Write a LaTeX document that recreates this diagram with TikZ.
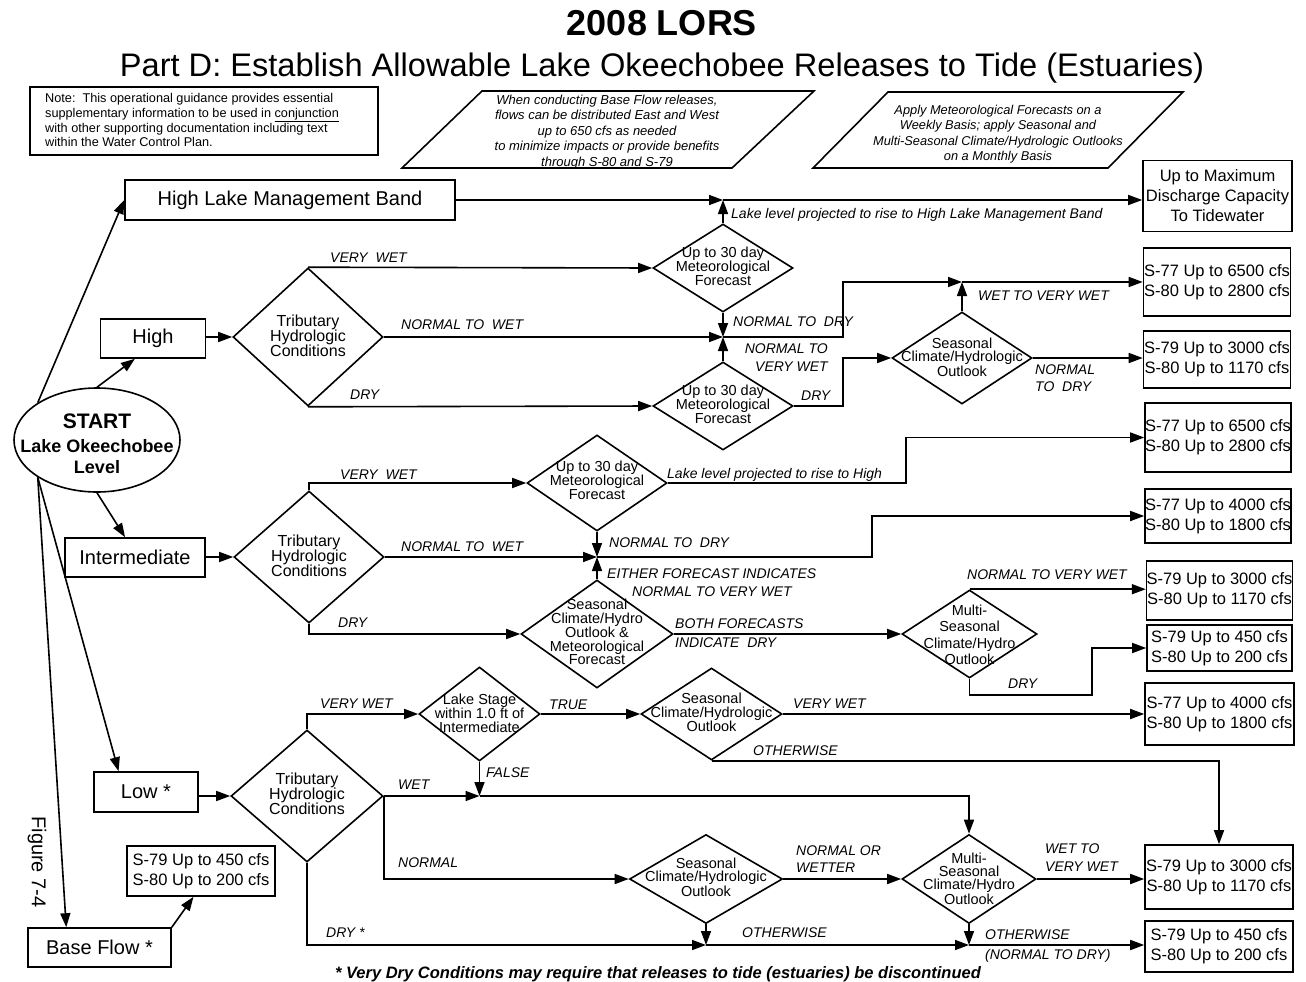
\documentclass[tikz,border=0pt]{standalone}
\usepackage{fontspec}
\setmainfont{Liberation Sans}
\usetikzlibrary{shapes.geometric,arrows.meta,calc}
\newcommand\myfs[2]{\fontsize{#1}{#2}\selectfont}
\begin{document}
\begin{tikzpicture}[x=1pt,y=-1pt,
  box/.style={draw, line width=1.6pt, rectangle, inner sep=0pt, align=center},
  dia/.style={draw, diamond, line width=1.6pt, inner sep=0pt},
  big/.style={font=\myfs{20}{24}},
  val/.style={font=\myfs{16.5}{20}},
  trib/.style={inner sep=0pt, align=center, font=\myfs{16}{15}},
  dsm/.style={inner sep=0pt, align=center, font=\myfs{14.5}{13.5}},
  lab/.style={inner sep=0pt, font=\myfs{14}{17}\itshape},
  conn/.style={line width=1.6pt},
  arr/.style={conn, -{Triangle[length=14pt,width=10pt]}},
]
\useasboundingbox (0,0) rectangle (1306,982);

% titles
\node[anchor=base, inner sep=0, font=\myfs{36}{40}\bfseries] (title) at (662,36) {2008 LORS};
\node[anchor=base, inner sep=0, font=\myfs{32.6}{36}] (subtitle) at (662,77) {Part D: Establish Allowable Lake Okeechobee Releases to Tide (Estuaries)};

% note
\node[draw, line width=1.8pt, minimum width=348, minimum height=68, inner sep=0] (notebox) at (204,121) {};
\node[anchor=north west, inner sep=0, align=left, font=\myfs{12.7}{14.8}] (notetext) at (45,93) {Note:\ \ This operational guidance provides essential\\supplementary information to be used in \underline{conjunction}\\with other supporting documentation including text\\within the Water Control Plan.};

% parallelograms
\draw[line width=1.6pt] (482,91) -- (814,91) -- (732,168) -- (402,168) -- cycle;
\node[inner sep=0, align=center, font=\myfs{13}{15.5}\itshape] (para1) at (607,132) {When conducting Base Flow releases,\\flows can be distributed East and West\\up to 650 cfs as needed\\to minimize impacts or provide benefits\\through S-80 and S-79};
\draw[line width=1.6pt] (888,92) -- (1183,92) -- (1108,168) -- (813,168) -- cycle;
\node[inner sep=0, align=center, font=\myfs{12.8}{15.5}\itshape] (para2) at (998,134) {Apply Meteorological Forecasts on a\\Weekly Basis; apply Seasonal and\\Multi-Seasonal Climate/Hydrologic Outlooks\\on a Monthly Basis};

% start
\node[draw, ellipse, line width=1.6pt, minimum width=166, minimum height=104, inner sep=0] (start) at (97,440) {};
\node[anchor=base, inner sep=0, font=\myfs{21}{24}\bfseries] (st1) at (97,428) {START};
\node[anchor=base, inner sep=0, font=\myfs{18}{20}\bfseries] (st2) at (97,452) {Lake Okeechobee};
\node[anchor=base, inner sep=0, font=\myfs{18}{20}\bfseries] (st3) at (97,473) {Level};

% level boxes
\node[box, big, minimum width=330, minimum height=40] (hlmb) at (290,200) {High Lake Management Band};
\node[box, big, minimum width=105, minimum height=39] (high) at (153,338.5) {High};
\node[box, big, minimum width=140, minimum height=39] (inter) at (135,557.5) {Intermediate};
\node[box, big, minimum width=104, minimum height=40] (low) at (146,792) {Low *};
\node[box, big, minimum width=143, minimum height=39] (bflow) at (99.5,947.5) {Base Flow *};
\node[box, val, minimum width=148, minimum height=50] (bval) at (201,871) {S-79 Up to 450 cfs\\S-80 Up to 200 cfs};

% result boxes
\node[box, val, minimum width=149, minimum height=71] (r0) at (1217.5,196) {Up to Maximum\\Discharge Capacity\\To Tidewater};
\node[box, val, minimum width=147, minimum height=68] (r1) at (1217,282) {S-77 Up to 6500 cfs\\S-80 Up to 2800 cfs};
\node[box, val, minimum width=147, minimum height=57] (r2) at (1217,359.5) {S-79 Up to 3000 cfs\\S-80 Up to 1170 cfs};
\node[box, val, minimum width=146, minimum height=69] (r3) at (1218,437.5) {S-77 Up to 6500 cfs\\S-80 Up to 2800 cfs};
\node[box, val, minimum width=146, minimum height=54] (r4) at (1218,516) {S-77 Up to 4000 cfs\\S-80 Up to 1800 cfs};
\node[box, val, minimum width=145, minimum height=59] (r5) at (1219.5,590.5) {S-79 Up to 3000 cfs\\S-80 Up to 1170 cfs};
\node[box, val, minimum width=145, minimum height=46] (r6) at (1219.5,648) {S-79 Up to 450 cfs\\S-80 Up to 200 cfs};
\node[box, val, minimum width=149, minimum height=62] (r7) at (1219.5,714) {S-77 Up to 4000 cfs\\S-80 Up to 1800 cfs};
\node[box, val, minimum width=148, minimum height=64] (r8) at (1219,877) {S-79 Up to 3000 cfs\\S-80 Up to 1170 cfs};
\node[box, val, minimum width=148, minimum height=51] (r9) at (1219,946.5) {S-79 Up to 450 cfs\\S-80 Up to 200 cfs};

% diamonds High
\node[dia, minimum width=150, minimum height=138] (trH) at (308,337) {};
\node[trib] (trHt) at (308,336) {Tributary\\Hydrologic\\Conditions};
\node[dia, minimum width=140, minimum height=88] (met1) at (723,268) {};
\node[dsm] (met1t) at (723,266) {Up to 30 day\\Meteorological\\Forecast};
\node[dia, minimum width=140, minimum height=88] (met2) at (723,406) {};
\node[dsm] (met2t) at (723,404) {Up to 30 day\\Meteorological\\Forecast};
\node[dia, minimum width=140, minimum height=92] (sch1) at (962,358) {};
\node[dsm] (sch1t) at (962,357) {Seasonal\\Climate/Hydrologic\\Outlook};

% diamonds Intermediate
\node[dia, minimum width=150, minimum height=132] (trI) at (309,557) {};
\node[trib] (trIt) at (309,556) {Tributary\\Hydrologic\\Conditions};
\node[dia, minimum width=140, minimum height=96] (met3) at (597,483) {};
\node[dsm] (met3t) at (597,480) {Up to 30 day\\Meteorological\\Forecast};
\node[dia, minimum width=152, minimum height=108] (schm) at (597,634) {};
\node[dsm] (schmt) at (597,632) {Seasonal\\Climate/Hydro\\Outlook \&\\Meteorological\\Forecast};
\node[dia, minimum width=135, minimum height=88] (ms1) at (969.5,634) {};
\node[inner sep=0, align=center, font=\myfs{14.5}{16.5}] (ms1t) at (969.5,635) {Multi-\\Seasonal\\Climate/Hydro\\Outlook};

% diamonds Low
\node[dia, minimum width=152, minimum height=132] (trL) at (307,796) {};
\node[trib] (trLt) at (307,794) {Tributary\\Hydrologic\\Conditions};
\node[dia, minimum width=121, minimum height=94] (ls) at (479.5,714) {};
\node[dsm] (lst) at (479.5,713) {Lake Stage\\within 1.0 ft of\\Intermediate};
\node[dia, minimum width=141, minimum height=92] (sch3) at (711.5,714) {};
\node[dsm] (sch3t) at (711.5,712.5) {Seasonal\\Climate/Hydrologic\\Outlook};
\node[dia, minimum width=153, minimum height=89] (sch4) at (706,879) {};
\node[dsm] (sch4t) at (706,877) {Seasonal\\Climate/Hydrologic\\Outlook};
\node[dia, minimum width=134, minimum height=89] (ms2) at (969,879) {};
\node[inner sep=0, align=center, font=\myfs{14.5}{13.3}] (ms2t) at (969,878.5) {Multi-\\Seasonal\\Climate/Hydro\\Outlook};

% junctions
\coordinate (j0) at (723,200);
\coordinate (j1) at (723,337);
\coordinate (b1) at (843,337);
\coordinate (j2) at (962,282);
\coordinate (b2) at (843,406);
\coordinate (j3) at (597,557);
\coordinate (b3) at (906,483);
\coordinate (b4) at (872,557);
\coordinate (b6) at (1092,695);
\coordinate (j4) at (479.5,796);
\coordinate (j5) at (706,945);
\coordinate (j6) at (969,945);

% start arrows
\draw[arr] (start.north west) -- (hlmb.west);
\draw[arr] (start.north) -- ($(high.south west)!0.33!(high.south east)$);
\draw[arr] (start.south) -- ($(inter.north west)!0.43!(inter.north east)$);
\draw[arr] (start.south west) -- ($(low.north west)!0.24!(low.north east)$);
\draw[arr] (start.south west) -- ($(bflow.north west)!0.27!(bflow.north east)$);
\draw[arr] (bflow.north east) -- ($(bval.south west)!0.45!(bval.south east)$);

% HLMB
\draw[arr] (hlmb.east) -- (j0);
\draw[arr] (j0) -- (j0 -| r0.west);
\draw[arr] (met1.north) -- (j0);

% High
\draw[arr] (trH.west -| high.east) -- (trH.west);
\draw[arr] (trH.north) -- (met1.west);
\draw[arr] (trH.east) -- (j1);
\draw[arr] (trH.south) -- (met2.west);
\draw[arr] (met1.south) -- (j1);
\draw[arr] (met2.north) -- (j1);
\draw[arr] (j1) -- (b1) |- (j2);
\draw[arr] (sch1.north) -- (j2);
\draw[arr] (j2) -- (j2 -| r1.west);
\draw[arr] (met2.east) -- (b2) |- (sch1.west);
\draw[arr] (sch1.east) -- (sch1.east -| r2.west);

% Intermediate
\draw[arr] (trI.west -| inter.east) -- (trI.west);
\draw[arr] (trI.north) |- (met3.west);
\draw[arr] (trI.east) -- (j3);
\draw[arr] (trI.south) |- (schm.west);
\draw[arr] (met3.south) -- (j3);
\draw[arr] (schm.north) -- (j3);
\draw[arr] (met3.east) -- (b3) |- (r3.west);
\draw[arr] (j3) -- (b4) |- (r4.west);
\draw[arr] (schm.east) -- (ms1.west);
\draw[arr] (ms1.north) -- (ms1.north -| r5.west);
\draw[arr] (ms1.south) |- (b6) |- (r6.west);

% Low
\draw[arr] (trL.west -| low.east) -- (trL.west);
\draw[arr] (trL.north) |- (ls.west);
\draw[arr] (ls.east) -- (sch3.west);
\draw[arr] (ls.south) -- (j4);
\draw[arr] (trL.east) -- (j4);
\draw[arr] (j4) -| (ms2.north);
\draw[arr] (sch3.east) -- (sch3.east -| r7.west);
\draw[arr] (sch3.south) -| (r8.north);
\draw[arr] (trL.east) |- (sch4.west);
\draw[arr] (sch4.east) -- (ms2.west);
\draw[arr] (ms2.east) -- (ms2.east -| r8.west);
\draw[arr] (trL.south) |- (j5);
\draw[arr] (j5) -- (j6);
\draw[arr] (j6) -- (j6 -| r9.west);
\draw[arr] (sch4.south) -- (j5);
\draw[arr] (ms2.south) -- (j6);

% labels High
\node[lab, anchor=base west] (lhl) at (731,218) {Lake level projected to rise to High Lake Management Band};
\node[lab, anchor=west] (lh1) at (330,258) {VERY\ \ WET};
\node[lab, anchor=west] (lh2) at (401,325) {NORMAL TO\ \ WET};
\node[lab, anchor=west] (lh3) at (350,395) {DRY};
\node[lab, anchor=west] (lh4) at (733,322) {NORMAL TO\ \ DRY};
\node[lab, anchor=east, align=right, font=\myfs{14}{18}\itshape] (lh5) at (828,358) {NORMAL TO\\VERY WET};
\node[lab, anchor=west] (lh6) at (801,396) {DRY};
\node[lab, anchor=west] (lh7) at (978,296) {WET TO VERY WET};
\node[lab, anchor=north west, align=left] (lh8) at (1035,365) {NORMAL\\TO\ \ DRY};

% labels Intermediate
\node[lab, anchor=west] (li1) at (340,475) {VERY\ \ WET};
\node[lab, anchor=west] (li2) at (401,547) {NORMAL TO\ \ WET};
\node[lab, anchor=west] (li3) at (338,623) {DRY};
\node[lab, anchor=base west] (li4) at (667,478) {Lake level projected to rise to High};
\node[lab, anchor=west] (li5) at (609,543) {NORMAL TO\ \ DRY};
\node[lab, anchor=west] (li6) at (607,574) {EITHER FORECAST INDICATES};
\node[lab, anchor=west] (li7) at (632,592) {NORMAL TO VERY WET};
\node[lab, anchor=west] (li8) at (675,624) {BOTH FORECASTS};
\node[lab, anchor=west] (li9) at (675,643) {INDICATE\ \ DRY};
\node[lab, anchor=west] (li10) at (967,575) {NORMAL TO VERY WET};
\node[lab, anchor=west] (li11) at (1008,684) {DRY};

% labels Low
\node[lab, anchor=west] (ll1) at (320,704) {VERY WET};
\node[lab, anchor=west] (ll2) at (549,705) {TRUE};
\node[lab, anchor=west] (ll3) at (486,773) {FALSE};
\node[lab, anchor=west] (ll4) at (398,785) {WET};
\node[lab, anchor=west] (ll5) at (398,863) {NORMAL};
\node[lab, anchor=west] (ll6) at (793,704) {VERY WET};
\node[lab, anchor=west] (ll7) at (753,751) {OTHERWISE};
\node[lab, anchor=north west, align=left] (ll8) at (796,846) {NORMAL OR\\WETTER};
\node[lab, anchor=north west, align=left, font=\myfs{14}{18}\itshape] (ll9) at (1045,844) {WET TO\\VERY WET};
\node[lab, anchor=west] (ll10) at (326,933) {DRY *};
\node[lab, anchor=west] (ll11) at (742,933) {OTHERWISE};
\node[lab, anchor=west] (ll12) at (985,935) {OTHERWISE};
\node[lab, anchor=west] (ll13) at (985,956) {(NORMAL TO DRY)};

% footnote and figure number
\node[anchor=base, inner sep=0, font=\myfs{16.5}{18}\bfseries\itshape] (foot) at (658,978) {* Very Dry Conditions may require that releases to tide (estuaries) be discontinued};
\node[rotate=-90, inner sep=0, font=\myfs{20}{24}] (fig) at (37,862) {Figure 7-4};
\end{tikzpicture}
\end{document}
